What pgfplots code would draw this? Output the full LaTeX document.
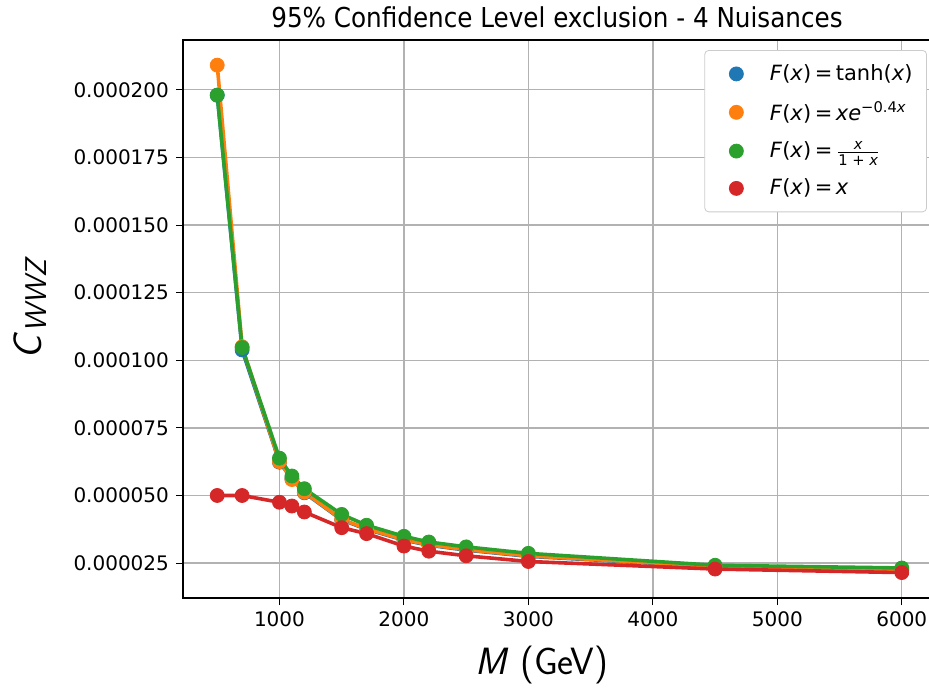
\documentclass[border=0pt]{standalone}
\usepackage{pgfplots}
\pgfplotsset{compat=1.18}
\usepackage{amsmath}
\usepackage{fontspec}
\setmainfont{DejaVu Sans}
\newfontfamily\condfont{DejaVu Sans Condensed}
\definecolor{tabblue}{HTML}{1F77B4}
\definecolor{taborange}{HTML}{FF7F0E}
\definecolor{tabgreen}{HTML}{2CA02C}
\definecolor{tabred}{HTML}{D62728}
\pgfplotstableread{
x y
500 0.0001980
700 0.0001038
1000 0.0000623
1100 0.0000562
1200 0.0000510
1500 0.0000410
1700 0.0000375
2000 0.0000335
2200 0.0000316
2500 0.0000298
3000 0.0000275
4500 0.0000237
6000 0.0000225
}\tblue
\pgfplotstableread{
x y
500 0.0002091
700 0.0001050
1000 0.0000625
1100 0.0000559
1200 0.0000512
1500 0.0000412
1700 0.0000377
2000 0.0000337
2200 0.0000318
2500 0.0000300
3000 0.0000277
4500 0.0000238
6000 0.0000226
}\torange
\pgfplotstableread{
x y
500 0.0001980
700 0.0001047
1000 0.0000638
1100 0.0000572
1200 0.0000525
1500 0.0000430
1700 0.0000390
2000 0.0000349
2200 0.0000328
2500 0.0000310
3000 0.0000286
4500 0.0000242
6000 0.0000232
}\tgreen
\pgfplotstableread{
x y
500 0.0000500
700 0.0000500
1000 0.0000475
1100 0.0000461
1200 0.0000439
1500 0.0000381
1700 0.0000359
2000 0.0000313
2200 0.0000294
2500 0.0000277
3000 0.0000256
4500 0.0000228
6000 0.0000215
}\tred
\begin{document}
\begin{tikzpicture}
\begin{axis}[
  scale only axis,
  width=376.5pt, height=279pt,
  xmin=225, xmax=6275,
  ymin=0.0000121, ymax=0.0002184,
  xtick={1000,2000,3000,4000,5000,6000},
  ytick={0.000025,0.00005,0.000075,0.0001,0.000125,0.00015,0.000175,0.0002},
  scaled y ticks=false, scaled x ticks=false,
  /pgf/number format/assume math mode=true,
  yticklabel style={/pgf/number format/.cd, fixed, precision=6, fixed zerofill},
  xticklabel style={/pgf/number format/.cd, set thousands separator={}},
  ticklabel style={font=\fontsize{10pt}{12pt}\selectfont},
  tick align=outside, xtick pos=bottom, ytick pos=left,
  major tick length=3.5pt,
  tick style={black, line width=0.5pt},
  axis line style={black, line width=0.6pt},
  grid=major,
  grid style={color=black!30, line width=0.7pt},
  legend style={at={(0.988,0.982)}, anchor=north east, draw=black!20, rounded corners=2pt,
    font=\fontsize{10.5pt}{12pt}\selectfont, row sep=5pt, inner xsep=5pt, inner ysep=5pt},
  legend cell align=left,
  legend image code/.code={\path[draw=none] (0cm,0cm) -- (0.9cm,0cm); \draw[only marks] plot coordinates {(0.38cm,0cm)};},
  clip=true,
]
\addplot[tabblue, line width=1.8pt, forget plot] table[x=x,y=y] {\tblue};
\addplot[taborange, line width=1.8pt, forget plot] table[x=x,y=y] {\torange};
\addplot[tabgreen, line width=1.8pt, forget plot] table[x=x,y=y] {\tgreen};
\addplot[tabred, line width=1.8pt, forget plot] table[x=x,y=y] {\tred};
\addplot[only marks, mark=*, mark size=3.5pt, tabblue, mark options={draw=tabblue, fill=tabblue}] table[x=x,y=y] {\tblue};
\addlegendentry{\textit{F}(\textit{x})\,=\,tanh(\textit{x})}
\addplot[only marks, mark=*, mark size=3.5pt, taborange, mark options={draw=taborange, fill=taborange}] table[x=x,y=y] {\torange};
\addlegendentry{\textit{F}(\textit{x})\,=\,\textit{xe}\textsuperscript{−0.4\textit{x}}}
\addplot[only marks, mark=*, mark size=3.5pt, tabgreen, mark options={draw=tabgreen, fill=tabgreen}] table[x=x,y=y] {\tgreen};
\addlegendentry{\textit{F}(\textit{x})\,=\,$\frac{\text{\textit{x}}}{\text{1 + \textit{x}}}$}
\addplot[only marks, mark=*, mark size=3.5pt, tabred, mark options={draw=tabred, fill=tabred}] table[x=x,y=y] {\tred};
\addlegendentry{\textit{F}(\textit{x})\,=\,\textit{x}}
\end{axis}
\node[font=\fontsize{13.7pt}{16pt}\selectfont\condfont] at ([shift={(187pt,290.5pt)}]current axis.south west) {95\% Confidence Level exclusion - 4 Nuisances};
\node[font=\fontsize{19pt}{21pt}\selectfont\sffamily] at ([shift={(179.5pt,-33.5pt)}]current axis.south west) {\textit{M}\hspace{0.3em}(GeV)};
\node[font=\fontsize{20pt}{22pt}\selectfont\sffamily, rotate=90] at ([shift={(-76.5pt,145pt)}]current axis.south west) {\textit{C}\raisebox{-0.3ex}{\fontsize{15pt}{16pt}\selectfont\textit{WWZ}}};
\pgfresetboundingbox
\path[use as bounding box] ([shift={(-91.5pt,-45.5pt)}]current axis.south west) rectangle ([shift={(373pt,299pt)}]current axis.south west);
\end{tikzpicture}
\end{document}
